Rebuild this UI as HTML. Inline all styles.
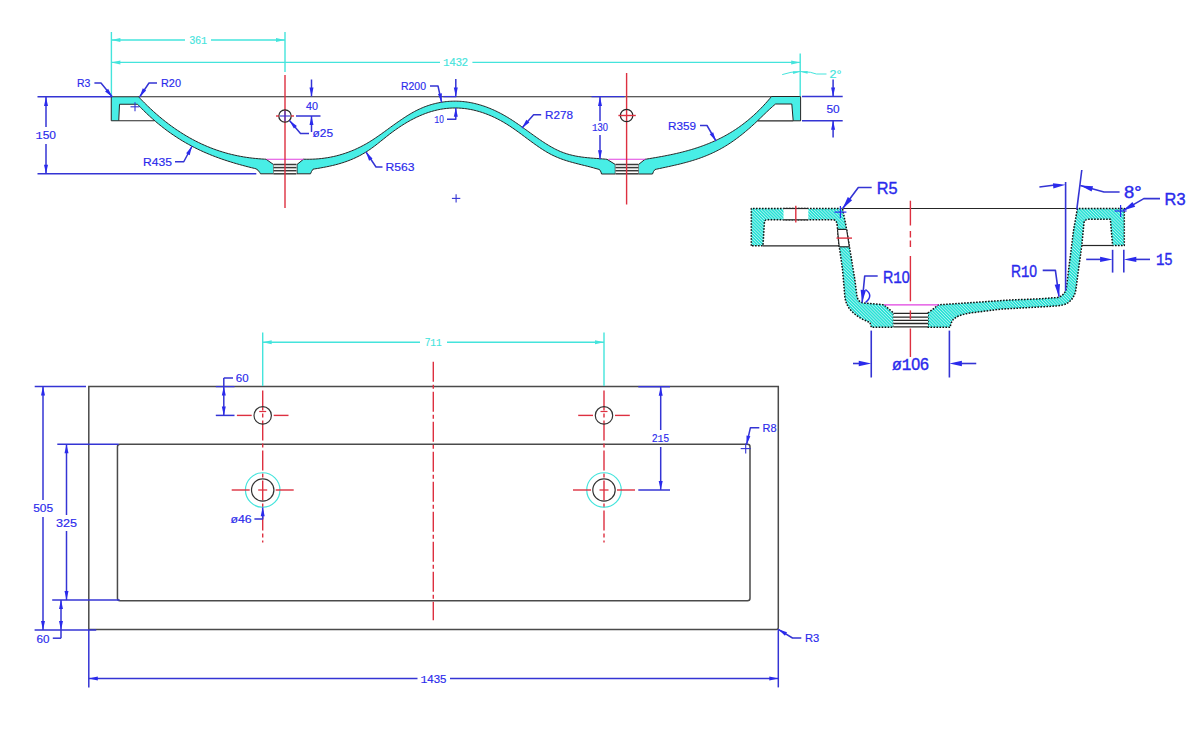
<!DOCTYPE html>
<html><head><meta charset="utf-8"><style>
html,body{margin:0;padding:0;background:#fff;}
svg{display:block;}
text{font-family:"Liberation Sans",sans-serif;} .m{font-family:"Liberation Mono",monospace;}
</style></head><body>
<svg width="1200" height="751" viewBox="0 0 1200 751">
<defs><pattern id="hatch" width="2.2" height="2.2" patternUnits="userSpaceOnUse" patternTransform="rotate(-45)"><rect width="2.2" height="2.2" fill="#22e4d4"/><rect width="0.8" height="2.2" fill="#b4eef2"/></pattern></defs>
<rect width="1200" height="751" fill="#fff"/>
<line x1="138" y1="96.75" x2="772" y2="96.75" stroke="#262626" stroke-width="1.2" />
<path d="M111.25,120.75 L111.25,96.75 L138.5,96.75 L138.5,96.75 L140,98.32 L141.5,99.88 L143,101.42 L144.5,102.93 L146,104.41 L147.5,105.88 L149,107.32 L150.5,108.73 L152,110.12 L153.5,111.49 L155,112.84 L156.5,114.16 L158,115.46 L159.5,116.74 L161,117.99 L162.5,119.22 L164,120.43 L165.5,121.62 L167,122.78 L168.5,123.93 L170,125.05 L171.5,126.15 L173,127.23 L174.5,128.29 L176,129.33 L177.5,130.34 L179,131.34 L180.5,132.31 L182,133.27 L183.5,134.2 L185,135.12 L186.5,136.01 L188,136.89 L189.5,137.74 L191,138.58 L192.5,139.4 L194,140.2 L195.5,140.98 L197,141.74 L198.5,142.48 L200,143.2 L201.5,143.91 L203,144.59 L204.5,145.26 L206,145.92 L207.5,146.55 L209,147.17 L210.5,147.76 L212,148.35 L213.5,148.91 L215,149.46 L216.5,149.99 L218,150.5 L219.5,151 L221,151.49 L222.5,151.95 L224,152.4 L225.5,152.84 L227,153.25 L228.5,153.66 L230,154.05 L231.5,154.42 L233,154.78 L234.5,155.12 L236,155.45 L237.5,155.76 L239,156.06 L240.5,156.35 L242,156.62 L243.5,156.88 L245,157.12 L246.5,157.35 L248,157.57 L249.5,157.78 L251,157.97 L252.5,158.15 L254,158.31 L255.5,158.46 L257,158.6 L258.5,158.73 L260,158.85 L261.5,158.95 L263,159.05 L264.5,159.13 L266,159.2 L273.5,164.5 L273.5,173.8 L260.5,173.8 L259.8,172.6 L258,170.2 L256,168.8 L254.5,168.42 L253,168.05 L251.5,167.68 L250,167.31 L248.5,166.93 L247,166.55 L245.5,166.16 L244,165.76 L242.5,165.36 L241,164.95 L239.5,164.54 L238,164.11 L236.5,163.69 L235,163.25 L233.5,162.81 L232,162.35 L230.5,161.89 L229,161.43 L227.5,160.95 L226,160.46 L224.5,159.96 L223,159.46 L221.5,158.94 L220,158.41 L218.5,157.87 L217,157.32 L215.5,156.76 L214,156.19 L212.5,155.61 L211,155.01 L209.5,154.4 L208,153.78 L206.5,153.14 L205,152.49 L203.5,151.83 L202,151.15 L200.5,150.46 L199,149.75 L197.5,149.03 L196,148.29 L194.5,147.54 L193,146.77 L191.5,145.98 L190,145.18 L188.5,144.36 L187,143.52 L185.5,142.67 L184,141.8 L182.5,140.91 L181,140 L179.5,139.07 L178,138.12 L176.5,137.16 L175,136.17 L173.5,135.17 L172,134.14 L170.5,133.1 L169,132.03 L167.5,130.94 L166,129.83 L164.5,128.7 L163,127.54 L161.5,126.37 L160,125.17 L158.5,123.95 L157,122.7 L155.5,121.43 L154,120.14 L152.5,118.82 L151,117.48 L149.5,116.11 L148,114.72 L146.5,113.3 L145,111.86 L143.5,110.39 L142,108.89 L140.5,107.37 L139,105.82 L137.5,104.25 L119.5,104.25 L118.75,120.75 Z" fill="#48eee6" stroke="#262626" stroke-width="1" stroke-linejoin="round"/>
<line x1="118.75" y1="120.75" x2="154.5" y2="120.75" stroke="#262626" stroke-width="1.2" />
<path d="M297,164.5 L303.5,159.2 L303.5,159.2 L305,159.23 L306.5,159.25 L308.01,159.25 L309.51,159.24 L311.01,159.21 L312.51,159.17 L314.02,159.1 L315.52,159.02 L317.02,158.92 L318.52,158.8 L320.03,158.66 L321.53,158.5 L323.03,158.32 L324.53,158.12 L326.04,157.9 L327.54,157.67 L329.04,157.41 L330.54,157.13 L332.05,156.83 L333.55,156.51 L335.05,156.16 L336.55,155.8 L338.06,155.41 L339.56,155 L341.06,154.57 L342.56,154.12 L344.07,153.64 L345.57,153.14 L347.07,152.61 L348.57,152.07 L350.08,151.49 L351.58,150.9 L353.08,150.28 L354.58,149.63 L356.09,148.96 L357.59,148.27 L359.09,147.54 L360.59,146.8 L362.1,146.02 L363.6,145.22 L365.1,144.4 L366.6,143.55 L368.11,142.67 L369.61,141.76 L371.11,140.83 L372.61,139.87 L374.12,138.88 L375.62,137.88 L377.12,136.85 L378.62,135.81 L380.13,134.76 L381.63,133.69 L383.13,132.61 L384.63,131.53 L386.14,130.44 L387.64,129.35 L389.14,128.25 L390.64,127.16 L392.15,126.07 L393.65,124.99 L395.15,123.91 L396.65,122.85 L398.16,121.79 L399.66,120.75 L401.16,119.72 L402.66,118.71 L404.17,117.71 L405.67,116.74 L407.17,115.79 L408.67,114.86 L410.18,113.95 L411.68,113.08 L413.18,112.23 L414.68,111.41 L416.19,110.62 L417.69,109.87 L419.19,109.16 L420.69,108.47 L422.2,107.83 L423.7,107.21 L425.2,106.62 L426.7,106.07 L428.21,105.55 L429.71,105.06 L431.21,104.6 L432.71,104.17 L434.22,103.77 L435.72,103.4 L437.22,103.06 L438.72,102.75 L440.23,102.46 L441.73,102.21 L443.23,101.98 L444.73,101.78 L446.24,101.6 L447.74,101.46 L449.24,101.34 L450.74,101.25 L452.25,101.19 L453.75,101.16 L455.25,101.15 L456.75,101.17 L458.25,101.22 L459.76,101.29 L461.26,101.39 L462.76,101.52 L464.26,101.68 L465.77,101.86 L467.27,102.07 L468.77,102.3 L470.27,102.56 L471.78,102.85 L473.28,103.17 L474.78,103.51 L476.28,103.88 L477.79,104.27 L479.29,104.69 L480.79,105.13 L482.29,105.61 L483.8,106.1 L485.3,106.62 L486.8,107.17 L488.3,107.75 L489.81,108.34 L491.31,108.97 L492.81,109.62 L494.31,110.29 L495.82,110.99 L497.32,111.72 L498.82,112.47 L500.32,113.24 L501.83,114.04 L503.33,114.86 L504.83,115.71 L506.33,116.58 L507.84,117.48 L509.34,118.4 L510.84,119.34 L512.34,120.31 L513.85,121.3 L515.35,122.3 L516.85,123.33 L518.35,124.37 L519.86,125.42 L521.36,126.48 L522.86,127.56 L524.36,128.64 L525.87,129.72 L527.37,130.81 L528.87,131.9 L530.37,132.99 L531.88,134.07 L533.38,135.15 L534.88,136.22 L536.38,137.29 L537.89,138.34 L539.39,139.38 L540.89,140.41 L542.39,141.42 L543.9,142.41 L545.4,143.38 L546.9,144.32 L548.4,145.24 L549.91,146.14 L551.41,147.01 L552.91,147.84 L554.41,148.64 L555.92,149.41 L557.42,150.14 L558.92,150.83 L560.42,151.49 L561.93,152.1 L563.43,152.67 L564.93,153.2 L566.43,153.69 L567.94,154.15 L569.44,154.58 L570.94,154.98 L572.44,155.34 L573.95,155.68 L575.45,155.99 L576.95,156.27 L578.45,156.53 L579.96,156.77 L581.46,156.99 L582.96,157.2 L584.46,157.38 L585.97,157.55 L587.47,157.71 L588.97,157.85 L590.47,157.99 L591.98,158.11 L593.48,158.23 L594.98,158.35 L596.48,158.46 L597.99,158.57 L599.49,158.68 L600.99,158.79 L602.49,158.91 L604,159.03 L605.5,159.16 L607,159.3 L615.3,164.5 L615.3,174 L601.5,174 L601,172 L599.5,169.5 L595,168.3 L593.5,167.87 L592,167.45 L590.5,167.05 L589,166.66 L587.5,166.28 L586,165.9 L584.5,165.53 L583,165.15 L581.5,164.78 L580,164.41 L578.5,164.04 L577,163.66 L575.5,163.27 L574,162.87 L572.5,162.47 L571,162.05 L569.5,161.62 L568,161.17 L566.5,160.71 L565,160.22 L563.5,159.71 L562,159.19 L560.5,158.63 L559,158.05 L557.5,157.44 L556,156.8 L554.5,156.13 L553,155.42 L551.5,154.68 L550,153.9 L548.5,153.08 L547,152.22 L545.5,151.33 L544,150.41 L542.5,149.45 L541,148.47 L539.5,147.47 L538,146.44 L536.5,145.39 L535,144.33 L533.5,143.25 L532,142.16 L530.5,141.05 L529,139.94 L527.5,138.83 L526,137.71 L524.5,136.59 L523,135.47 L521.5,134.36 L520,133.25 L518.5,132.16 L517,131.07 L515.5,130 L514,128.95 L512.5,127.92 L511,126.91 L509.5,125.92 L508,124.96 L506.5,124.02 L505,123.11 L503.5,122.23 L502,121.37 L500.5,120.53 L499,119.73 L497.5,118.95 L496,118.2 L494.5,117.47 L493,116.77 L491.5,116.09 L490,115.45 L488.5,114.82 L487,114.23 L485.5,113.66 L484,113.12 L482.5,112.61 L481,112.12 L479.5,111.66 L478,111.22 L476.5,110.82 L475,110.44 L473.5,110.08 L472,109.76 L470.5,109.46 L469,109.19 L467.5,108.95 L466,108.73 L464.5,108.54 L463,108.38 L461.5,108.25 L460,108.14 L458.5,108.06 L457,108.01 L455.5,107.99 L454,108 L452.5,108.03 L451,108.09 L449.5,108.18 L448,108.3 L446.5,108.45 L445,108.62 L443.5,108.82 L442,109.05 L440.5,109.31 L439,109.6 L437.5,109.92 L436,110.26 L434.5,110.63 L433,111.04 L431.5,111.47 L430,111.92 L428.5,112.41 L427,112.92 L425.5,113.47 L424,114.03 L422.5,114.63 L421,115.25 L419.5,115.9 L418,116.58 L416.5,117.28 L415,118.01 L413.5,118.77 L412,119.55 L410.5,120.35 L409,121.18 L407.5,122.04 L406,122.92 L404.5,123.83 L403,124.76 L401.5,125.72 L400,126.7 L398.5,127.71 L397,128.74 L395.5,129.79 L394,130.87 L392.5,131.97 L391,133.09 L389.5,134.24 L388,135.41 L386.5,136.59 L385,137.79 L383.5,138.99 L382,140.2 L380.5,141.4 L379,142.6 L377.5,143.79 L376,144.96 L374.5,146.11 L373,147.23 L371.5,148.32 L370,149.38 L368.5,150.4 L367,151.38 L365.5,152.32 L364,153.23 L362.5,154.1 L361,154.94 L359.5,155.74 L358,156.51 L356.5,157.24 L355,157.95 L353.5,158.62 L352,159.27 L350.5,159.89 L349,160.48 L347.5,161.05 L346,161.59 L344.5,162.11 L343,162.6 L341.5,163.07 L340,163.53 L338.5,163.96 L337,164.37 L335.5,164.76 L334,165.14 L332.5,165.5 L331,165.85 L329.5,166.18 L328,166.5 L326.5,166.8 L325,167.1 L323.5,167.38 L322,167.66 L320.5,167.93 L319,168.19 L317.5,168.44 L316,168.69 L314.5,168.93 L313,169.2 L311.5,171.5 L310.5,173.8 L297,173.8 Z" fill="#48eee6" stroke="#262626" stroke-width="1" stroke-linejoin="round"/>
<path d="M638.5,164.5 L645,159.3 L645,159.3 L646.51,159.08 L648.01,158.83 L649.52,158.58 L651.02,158.33 L652.53,158.08 L654.04,157.83 L655.54,157.57 L657.05,157.31 L658.55,157.04 L660.06,156.77 L661.57,156.5 L663.07,156.22 L664.58,155.93 L666.08,155.64 L667.59,155.34 L669.1,155.04 L670.6,154.73 L672.11,154.41 L673.61,154.09 L675.12,153.75 L676.62,153.41 L678.13,153.06 L679.64,152.7 L681.14,152.33 L682.65,151.96 L684.15,151.57 L685.66,151.17 L687.17,150.76 L688.67,150.34 L690.18,149.91 L691.68,149.46 L693.19,149.01 L694.7,148.54 L696.2,148.06 L697.71,147.56 L699.21,147.05 L700.72,146.53 L702.23,145.99 L703.73,145.44 L705.24,144.87 L706.74,144.29 L708.25,143.69 L709.76,143.08 L711.26,142.44 L712.77,141.8 L714.27,141.13 L715.78,140.44 L717.29,139.74 L718.79,139.02 L720.3,138.27 L721.8,137.51 L723.31,136.72 L724.82,135.92 L726.32,135.08 L727.83,134.23 L729.33,133.35 L730.84,132.45 L732.35,131.52 L733.85,130.57 L735.36,129.59 L736.86,128.58 L738.37,127.55 L739.88,126.48 L741.38,125.39 L742.89,124.27 L744.39,123.12 L745.9,121.93 L747.4,120.72 L748.91,119.47 L750.42,118.2 L751.92,116.88 L753.43,115.54 L754.93,114.16 L756.44,112.74 L757.95,111.29 L759.45,109.8 L760.96,108.28 L762.46,106.72 L763.97,105.12 L765.48,103.48 L766.98,101.8 L768.49,100.08 L769.99,98.32 L771.5,96.5 L800.6,96.5 L800.6,120.8 L793.2,120.8 L791.8,104 L775.6,104 L774.09,105.23 L772.59,106.54 L771.08,107.88 L769.57,109.26 L768.06,110.67 L766.56,112.1 L765.05,113.55 L763.54,115.01 L762.03,116.47 L760.52,117.93 L759.02,119.39 L757.51,120.83 L756,122.26 L754.5,123.66 L752.99,125.04 L751.48,126.4 L749.97,127.74 L748.47,129.05 L746.96,130.34 L745.45,131.61 L743.94,132.85 L742.44,134.08 L740.93,135.27 L739.42,136.44 L737.91,137.59 L736.4,138.71 L734.9,139.81 L733.39,140.88 L731.88,141.93 L730.38,142.95 L728.87,143.94 L727.36,144.9 L725.85,145.84 L724.35,146.75 L722.84,147.63 L721.33,148.49 L719.82,149.32 L718.32,150.12 L716.81,150.9 L715.3,151.65 L713.79,152.38 L712.28,153.09 L710.78,153.77 L709.27,154.43 L707.76,155.08 L706.25,155.7 L704.75,156.3 L703.24,156.88 L701.73,157.45 L700.23,158 L698.72,158.53 L697.21,159.04 L695.7,159.54 L694.2,160.02 L692.69,160.49 L691.18,160.95 L689.67,161.39 L688.16,161.82 L686.66,162.24 L685.15,162.64 L683.64,163.04 L682.13,163.43 L680.63,163.81 L679.12,164.18 L677.61,164.54 L676.11,164.89 L674.6,165.24 L673.09,165.59 L671.58,165.92 L670.08,166.26 L668.57,166.59 L667.06,166.92 L665.55,167.24 L664.04,167.56 L662.54,167.89 L661.03,168.21 L659.52,168.53 L658.01,168.85 L656.51,169.18 L655,169.5 L653.5,171.5 L652.5,174 L638.5,174 Z" fill="#48eee6" stroke="#262626" stroke-width="1" stroke-linejoin="round"/>
<line x1="757.5" y1="120.8" x2="793.2" y2="120.8" stroke="#262626" stroke-width="1.2" />
<rect x="273.5" y="164.5" width="23" height="9.4" fill="#fff"/>
<line x1="273.5" y1="164.5" x2="296.5" y2="164.5" stroke="#3a3a3a" stroke-width="1.5" />
<line x1="273.5" y1="167.6" x2="296.5" y2="167.6" stroke="#3a3a3a" stroke-width="1.5" />
<line x1="273.5" y1="170.7" x2="296.5" y2="170.7" stroke="#3a3a3a" stroke-width="1.5" />
<line x1="273.5" y1="173.8" x2="296.5" y2="173.8" stroke="#3a3a3a" stroke-width="1.5" />
<line x1="266.5" y1="159.25" x2="303.5" y2="159.25" stroke="#e040e0" stroke-width="1.2" />
<rect x="615.5" y="164.5" width="23" height="9.4" fill="#fff"/>
<line x1="615.5" y1="164.5" x2="638.5" y2="164.5" stroke="#3a3a3a" stroke-width="1.5" />
<line x1="615.5" y1="167.6" x2="638.5" y2="167.6" stroke="#3a3a3a" stroke-width="1.5" />
<line x1="615.5" y1="170.7" x2="638.5" y2="170.7" stroke="#3a3a3a" stroke-width="1.5" />
<line x1="615.5" y1="173.8" x2="638.5" y2="173.8" stroke="#3a3a3a" stroke-width="1.5" />
<line x1="608.5" y1="159.25" x2="645.5" y2="159.25" stroke="#e040e0" stroke-width="1.2" />
<line x1="285" y1="75" x2="285" y2="208" stroke="#dd3040" stroke-width="1.4" />
<line x1="626.6" y1="73" x2="626.6" y2="204.5" stroke="#dd3040" stroke-width="1.4" />
<circle cx="285" cy="116" r="6.2" fill="none" stroke="#262626" stroke-width="1.3"/>
<circle cx="626.6" cy="115.5" r="6.2" fill="none" stroke="#262626" stroke-width="1.3"/>
<line x1="276" y1="116" x2="279" y2="116" stroke="#dd3040" stroke-width="1.4" />
<line x1="291" y1="116" x2="294" y2="116" stroke="#dd3040" stroke-width="1.4" />
<line x1="618.4" y1="115.5" x2="635.8" y2="115.5" stroke="#dd3040" stroke-width="1.4" />
<line x1="280" y1="116" x2="290" y2="116" stroke="#3434d4" stroke-width="1.1" />
<line x1="285" y1="111" x2="285" y2="121" stroke="#3434d4" stroke-width="1.1" />
<line x1="111.4" y1="32" x2="111.4" y2="97" stroke="#44e4dc" stroke-width="1.4" />
<line x1="285" y1="32" x2="285" y2="72" stroke="#44e4dc" stroke-width="1.4" />
<line x1="800.2" y1="53.6" x2="800.2" y2="96.2" stroke="#44e4dc" stroke-width="1.4" />
<line x1="111.4" y1="40" x2="185" y2="40" stroke="#44e4dc" stroke-width="1.4" />
<line x1="211" y1="40" x2="285" y2="40" stroke="#44e4dc" stroke-width="1.4" />
<polygon points="111.4,40 120.4,42 120.4,38" fill="#44e4dc"/>
<polygon points="285,40 276,38 276,42" fill="#44e4dc"/>
<text x="189.6" y="44.43" font-size="10.5" fill="#44e4dc" stroke="#44e4dc" stroke-width="0.15" textLength="17.4" lengthAdjust="spacingAndGlyphs">36<tspan class="m">1</tspan></text>
<line x1="111.4" y1="62.4" x2="440" y2="62.4" stroke="#44e4dc" stroke-width="1.4" />
<line x1="472.4" y1="62.4" x2="800.2" y2="62.4" stroke="#44e4dc" stroke-width="1.4" />
<polygon points="111.4,62.4 120.4,64.4 120.4,60.4" fill="#44e4dc"/>
<polygon points="800.2,62.4 791.2,60.4 791.2,64.4" fill="#44e4dc"/>
<text x="443" y="66.43" font-size="10.5" fill="#44e4dc" stroke="#44e4dc" stroke-width="0.15" textLength="25" lengthAdjust="spacingAndGlyphs"><tspan class="m">1</tspan>432</text>
<polyline points="782.2,74.6 791,72.3 800,71.5" fill="none" stroke="#44e4dc" stroke-width="1.0" stroke-linejoin="round" />
<polyline points="800,71.5 810.4,72.3 816.4,74 826.5,74" fill="none" stroke="#44e4dc" stroke-width="1.0" stroke-linejoin="round" />
<polygon points="800,71.8 792.88,71.22 793.21,74" fill="#44e4dc"/>
<polygon points="800.6,71.8 807.48,73.69 807.68,70.89" fill="#44e4dc"/>
<text x="829.5" y="77.83" font-size="10.5" fill="#44e4dc" stroke="#44e4dc" stroke-width="0.15" textLength="12" lengthAdjust="spacingAndGlyphs">2°</text>
<line x1="37.5" y1="96.75" x2="111" y2="96.75" stroke="#3434d4" stroke-width="1.5" />
<line x1="37.5" y1="173.75" x2="256.3" y2="173.75" stroke="#3434d4" stroke-width="1.5" />
<line x1="46" y1="97" x2="46" y2="127" stroke="#3434d4" stroke-width="1.5" />
<line x1="46" y1="144" x2="46" y2="173.75" stroke="#3434d4" stroke-width="1.5" />
<polygon points="46,97 44,106 48,106" fill="#2a2aec"/>
<polygon points="46,173.75 48,164.75 44,164.75" fill="#2a2aec"/>
<text x="35.5" y="139.33" font-size="10.5" fill="#2a2aec" stroke="#2a2aec" stroke-width="0.15" textLength="20.5" lengthAdjust="spacingAndGlyphs"><tspan class="m">1</tspan>50</text>
<polyline points="94.4,83 101,83 112.4,97" fill="none" stroke="#3434d4" stroke-width="1.5" stroke-linejoin="round" />
<polygon points="112.4,97 108.14,88.82 105.08,91.4" fill="#2a2aec"/>
<text x="77" y="86.83" font-size="10.5" fill="#2a2aec" stroke="#2a2aec" stroke-width="0.15" textLength="13.4" lengthAdjust="spacingAndGlyphs">R3</text>
<polyline points="157,83 149,83 139.6,97" fill="none" stroke="#3434d4" stroke-width="1.5" stroke-linejoin="round" />
<polygon points="139.6,97 146.14,90.5 142.77,88.34" fill="#2a2aec"/>
<text x="161" y="86.83" font-size="10.5" fill="#2a2aec" stroke="#2a2aec" stroke-width="0.15" textLength="20" lengthAdjust="spacingAndGlyphs">R20</text>
<line x1="130.5" y1="106.8" x2="139.5" y2="106.8" stroke="#3434d4" stroke-width="1.1" />
<line x1="135" y1="102.3" x2="135" y2="111.3" stroke="#3434d4" stroke-width="1.1" />
<line x1="311.5" y1="79.5" x2="311.5" y2="96.5" stroke="#3434d4" stroke-width="1.5" />
<polygon points="311.5,96.5 313.5,87.5 309.5,87.5" fill="#2a2aec"/>
<line x1="296" y1="116" x2="320.5" y2="116" stroke="#3434d4" stroke-width="1.5" />
<line x1="311.5" y1="116" x2="311.5" y2="132" stroke="#3434d4" stroke-width="1.5" />
<polygon points="311.5,116 309.5,125 313.5,125" fill="#2a2aec"/>
<text x="306" y="110.33" font-size="10.5" fill="#2a2aec" stroke="#2a2aec" stroke-width="0.15" textLength="12" lengthAdjust="spacingAndGlyphs">40</text>
<polyline points="309,133.5 300.5,133.5 289.5,120.5" fill="none" stroke="#3434d4" stroke-width="1.5" stroke-linejoin="round" />
<polygon points="289.5,120.5 293.88,128.61 296.91,125.99" fill="#2a2aec"/>
<text x="312.5" y="136.83" font-size="10.5" fill="#2a2aec" stroke="#2a2aec" stroke-width="0.15" textLength="20.5" lengthAdjust="spacingAndGlyphs">ø25</text>
<polyline points="175,161.75 183.75,161.75 192,146.25" fill="none" stroke="#3434d4" stroke-width="1.5" stroke-linejoin="round" />
<polygon points="192,146.25 186.11,153.34 189.66,155.17" fill="#2a2aec"/>
<text x="143" y="165.58" font-size="10.5" fill="#2a2aec" stroke="#2a2aec" stroke-width="0.15" textLength="29" lengthAdjust="spacingAndGlyphs">R435</text>
<polyline points="382.5,167 376,167 366,152" fill="none" stroke="#3434d4" stroke-width="1.5" stroke-linejoin="round" />
<polygon points="366,152 369.07,160.69 372.47,158.57" fill="#2a2aec"/>
<text x="385.5" y="170.83" font-size="10.5" fill="#2a2aec" stroke="#2a2aec" stroke-width="0.15" textLength="29" lengthAdjust="spacingAndGlyphs">R563</text>
<polyline points="430,86 438,86 441.6,102.4" fill="none" stroke="#3434d4" stroke-width="1.5" stroke-linejoin="round" />
<polygon points="441.6,102.4 441.87,93.18 437.94,93.94" fill="#2a2aec"/>
<text x="401" y="89.83" font-size="10.5" fill="#2a2aec" stroke="#2a2aec" stroke-width="0.15" textLength="25" lengthAdjust="spacingAndGlyphs">R200</text>
<line x1="455.8" y1="79" x2="455.8" y2="96.5" stroke="#3434d4" stroke-width="1.5" />
<polygon points="455.8,96.5 457.8,87.5 453.8,87.5" fill="#2a2aec"/>
<line x1="443.3" y1="96.6" x2="456.3" y2="96.6" stroke="#3434d4" stroke-width="1.3" />
<polyline points="447,119.2 455.8,119.2 455.8,108" fill="none" stroke="#3434d4" stroke-width="1.5" stroke-linejoin="round" />
<polygon points="455.8,107.8 453.8,116.8 457.8,116.8" fill="#2a2aec"/>
<text x="434.2" y="122.83" font-size="10.5" fill="#2a2aec" stroke="#2a2aec" stroke-width="0.15" textLength="9.55" lengthAdjust="spacingAndGlyphs"><tspan class="m">1</tspan>0</text>
<polyline points="541.2,114.8 533.6,114.8 522,128" fill="none" stroke="#3434d4" stroke-width="1.5" stroke-linejoin="round" />
<polygon points="522,128 529.38,122.47 526.34,119.87" fill="#2a2aec"/>
<text x="545" y="119.23" font-size="10.5" fill="#2a2aec" stroke="#2a2aec" stroke-width="0.15" textLength="28" lengthAdjust="spacingAndGlyphs">R278</text>
<line x1="591.5" y1="96.6" x2="624.5" y2="96.6" stroke="#3434d4" stroke-width="1.4" />
<line x1="600" y1="97" x2="600" y2="121" stroke="#3434d4" stroke-width="1.5" />
<line x1="600" y1="135" x2="600" y2="159.3" stroke="#3434d4" stroke-width="1.5" />
<polygon points="600,97 598,106 602,106" fill="#2a2aec"/>
<polygon points="600,159.3 602,150.3 598,150.3" fill="#2a2aec"/>
<text x="592" y="131.43" font-size="10.5" fill="#2a2aec" stroke="#2a2aec" stroke-width="0.15" textLength="16" lengthAdjust="spacingAndGlyphs"><tspan class="m">1</tspan>30</text>
<polyline points="700,125.5 707,125.5 716,141" fill="none" stroke="#3434d4" stroke-width="1.5" stroke-linejoin="round" />
<polygon points="716,141 713.16,132.23 709.71,134.26" fill="#2a2aec"/>
<text x="668" y="129.93" font-size="10.5" fill="#2a2aec" stroke="#2a2aec" stroke-width="0.15" textLength="28" lengthAdjust="spacingAndGlyphs">R359</text>
<line x1="802" y1="96.5" x2="842.7" y2="96.5" stroke="#3434d4" stroke-width="1.5" />
<line x1="802" y1="120.7" x2="842.7" y2="120.7" stroke="#3434d4" stroke-width="1.5" />
<line x1="833.1" y1="79.4" x2="833.1" y2="96.5" stroke="#3434d4" stroke-width="1.5" />
<polygon points="833.1,96.5 835.1,87.5 831.1,87.5" fill="#2a2aec"/>
<line x1="833.1" y1="120.7" x2="833.1" y2="137.5" stroke="#3434d4" stroke-width="1.5" />
<polygon points="833.1,120.7 831.1,129.7 835.1,129.7" fill="#2a2aec"/>
<text x="826.5" y="112.58" font-size="10.5" fill="#2a2aec" stroke="#2a2aec" stroke-width="0.15" textLength="13.2" lengthAdjust="spacingAndGlyphs">50</text>
<line x1="451.9" y1="198.4" x2="460.3" y2="198.4" stroke="#3434d4" stroke-width="1.1" />
<line x1="456.1" y1="194.2" x2="456.1" y2="202.6" stroke="#3434d4" stroke-width="1.1" />
<line x1="842.5" y1="208.5" x2="1077.4" y2="208.5" stroke="#262626" stroke-width="1.2" />
<path d="M751.3,245.8 L751.3,208.5 L842.5,208.5 L846,226 L850.3,252 L854.6,278 L857,296.5 C857.8,300 860,302.6 863.5,303 L884,304.8 L893.5,313 L893.5,327.2 L871.3,327.2 L870,322.5 C862,319.5 853,314 849,308 C846.5,304 845.2,300.5 844.8,296 L842.5,269.3 L839,245 L837.3,226 C836.8,222 836,220 833.5,219.8 L766.5,219.8 C764.8,220 764.5,221.5 764.4,223 L763,245.8 Z" fill="url(#hatch)" stroke="#111" stroke-width="1.5" stroke-dasharray="1.6,1.4" stroke-linejoin="round"/>
<path d="M928,313 L938.5,304.8 L970,302.7 L1010,300 L1040,298.8 L1057.6,297.5 C1062,296.5 1065.5,293 1066.4,288 L1070,258.6 L1073.7,229.3 L1077.4,208.6 L1124.3,208.6 L1124.3,245.5 L1112.6,245.5 L1110.4,219.3 L1088,219.3 C1085.5,219.5 1084.3,221 1084,223 L1081.8,245.5 L1079.6,261.6 L1075.9,289.4 C1075,295 1072.5,300 1067,303.5 C1064,305 1060,305.5 1056,306 L1000,309.2 L970,313 C962,314.3 955.5,316.5 952.5,320.5 C951.2,322.5 950.5,325 950.2,327.2 L928,327.2 Z" fill="url(#hatch)" stroke="#111" stroke-width="1.5" stroke-dasharray="1.6,1.4" stroke-linejoin="round"/>
<line x1="763" y1="245.8" x2="839" y2="245.8" stroke="#262626" stroke-width="1.2" />
<line x1="1081.8" y1="245.5" x2="1112.6" y2="245.5" stroke="#262626" stroke-width="1.2" />
<rect x="783.5" y="208.6" width="24.8" height="11.2" fill="#fff"/>
<line x1="783.5" y1="208.5" x2="808.3" y2="208.5" stroke="#262626" stroke-width="1.2" />
<line x1="783.5" y1="219.8" x2="808.3" y2="219.8" stroke="#262626" stroke-width="1.2" />
<line x1="795.8" y1="205.8" x2="795.8" y2="222.5" stroke="#dd3040" stroke-width="1.4" />
<polygon points="837.5,229.4 846.6,229.4 849.3,246.8 839.4,246.8" fill="#fff"/>
<line x1="837.5" y1="229.4" x2="846.6" y2="229.4" stroke="#262626" stroke-width="1.2" />
<line x1="839.2" y1="246.8" x2="849.3" y2="246.8" stroke="#262626" stroke-width="1.2" />
<line x1="837.5" y1="229.4" x2="839.2" y2="246.8" stroke="#262626" stroke-width="1.1" />
<line x1="846.6" y1="229.4" x2="849.3" y2="246.8" stroke="#262626" stroke-width="1.1" />
<line x1="836.5" y1="238.1" x2="852" y2="238.1" stroke="#dd3040" stroke-width="1.4" />
<rect x="893.5" y="313" width="34.5" height="14.2" fill="#fff"/>
<line x1="893.5" y1="313.3" x2="928" y2="313.3" stroke="#262626" stroke-width="1.3" />
<line x1="893.5" y1="317.1" x2="928" y2="317.1" stroke="#262626" stroke-width="1.3" />
<line x1="893.5" y1="320.4" x2="928" y2="320.4" stroke="#262626" stroke-width="1.3" />
<line x1="893.5" y1="323.5" x2="928" y2="323.5" stroke="#262626" stroke-width="1.3" />
<line x1="893.5" y1="326.9" x2="928" y2="326.9" stroke="#262626" stroke-width="1.3" />
<line x1="884" y1="304.8" x2="938.5" y2="304.8" stroke="#e040e0" stroke-width="1.3" />
<line x1="910.4" y1="200.7" x2="910.4" y2="225.5" stroke="#dd3040" stroke-width="1.4" />
<line x1="910.4" y1="231" x2="910.4" y2="237.5" stroke="#dd3040" stroke-width="1.4" />
<line x1="910.4" y1="240.5" x2="910.4" y2="247" stroke="#dd3040" stroke-width="1.4" />
<line x1="910.4" y1="256" x2="910.4" y2="301.3" stroke="#dd3040" stroke-width="1.4" />
<line x1="910.4" y1="310.4" x2="910.4" y2="319.4" stroke="#dd3040" stroke-width="1.4" />
<line x1="910.4" y1="328.5" x2="910.4" y2="357" stroke="#dd3040" stroke-width="1.4" />
<polyline points="871.7,187.5 858.3,187.5 842.5,208.7" fill="none" stroke="#3434d4" stroke-width="1.6" stroke-linejoin="round" />
<polygon points="842.5,208.7 852.13,200.29 847.8,197.06" fill="#2a2aec"/>
<text x="876.7" y="193.51" font-size="16.5" fill="#2a2aec" stroke="#2a2aec" stroke-width="0.4" textLength="20.8" lengthAdjust="spacingAndGlyphs">R5</text>
<line x1="834.4" y1="212.1" x2="846.4" y2="212.1" stroke="#2a2aec" stroke-width="1.2" />
<line x1="840.4" y1="206.1" x2="840.4" y2="218.1" stroke="#2a2aec" stroke-width="1.2" />
<polyline points="877.7,276 864.7,276 862.1,302.5" fill="none" stroke="#3434d4" stroke-width="1.6" stroke-linejoin="round" />
<polygon points="862.1,302.5 865.98,290.31 860.6,289.8" fill="#2a2aec"/>
<path d="M865.5,289.5 Q874,295.5 865.5,302.5" fill="none" stroke="#2a2aec" stroke-width="1.5"/>
<text x="882.9" y="283.41" font-size="16.5" fill="#2a2aec" stroke="#2a2aec" stroke-width="0.4" textLength="26.8" lengthAdjust="spacingAndGlyphs">R<tspan class="m">1</tspan>0</text>
<polyline points="1042.7,270.4 1055.4,270.4 1059,296.7" fill="none" stroke="#3434d4" stroke-width="1.6" stroke-linejoin="round" />
<polygon points="1059,296.7 1060.02,283.95 1054.66,284.67" fill="#2a2aec"/>
<text x="1010.9" y="277.01" font-size="16.5" fill="#2a2aec" stroke="#2a2aec" stroke-width="0.4" textLength="26.1" lengthAdjust="spacingAndGlyphs">R<tspan class="m">1</tspan>0</text>
<line x1="1065.6" y1="182" x2="1065.6" y2="290.9" stroke="#3434d4" stroke-width="1.6" />
<line x1="1081.8" y1="170" x2="1076.8" y2="209.5" stroke="#3434d4" stroke-width="1.6" />
<line x1="1039.4" y1="187" x2="1055" y2="185" stroke="#3434d4" stroke-width="1.6" />
<polygon points="1065.6,184.8 1052.91,183.23 1053.39,188.61" fill="#2a2aec"/>
<polyline points="1119.6,192 1104,192 1080.3,185.5" fill="none" stroke="#3434d4" stroke-width="1.6" stroke-linejoin="round" />
<polygon points="1080.3,185.5 1091.61,191.47 1093.06,186.27" fill="#2a2aec"/>
<text x="1124" y="198.01" font-size="16.5" fill="#2a2aec" stroke="#2a2aec" stroke-width="0.4" textLength="17.6" lengthAdjust="spacingAndGlyphs">8°</text>
<polyline points="1160,198.6 1143.8,198.6 1123,210.6" fill="none" stroke="#3434d4" stroke-width="1.6" stroke-linejoin="round" />
<polygon points="1123,210.6 1135.17,206.66 1132.46,201.99" fill="#2a2aec"/>
<text x="1164.6" y="204.61" font-size="16.5" fill="#2a2aec" stroke="#2a2aec" stroke-width="0.4" textLength="20.9" lengthAdjust="spacingAndGlyphs">R3</text>
<line x1="1114.6" y1="211" x2="1126.6" y2="211" stroke="#2a2aec" stroke-width="1.2" />
<line x1="1120.6" y1="205" x2="1120.6" y2="217" stroke="#2a2aec" stroke-width="1.2" />
<line x1="1112.6" y1="249.8" x2="1112.6" y2="272.6" stroke="#3434d4" stroke-width="1.6" />
<line x1="1123.8" y1="249.8" x2="1123.8" y2="272.6" stroke="#3434d4" stroke-width="1.6" />
<line x1="1086.2" y1="259.4" x2="1104" y2="259.4" stroke="#3434d4" stroke-width="1.6" />
<polygon points="1112.6,259.4 1100.1,256.7 1100.1,262.1" fill="#2a2aec"/>
<line x1="1150" y1="259.4" x2="1132" y2="259.4" stroke="#3434d4" stroke-width="1.6" />
<polygon points="1123.8,259.4 1136.3,262.1 1136.3,256.7" fill="#2a2aec"/>
<text x="1155.9" y="265.01" font-size="16.5" fill="#2a2aec" stroke="#2a2aec" stroke-width="0.4" textLength="16.4" lengthAdjust="spacingAndGlyphs"><tspan class="m">1</tspan>5</text>
<line x1="871.25" y1="330.6" x2="871.25" y2="377.5" stroke="#3434d4" stroke-width="1.6" />
<line x1="949.4" y1="330.6" x2="949.4" y2="377.5" stroke="#3434d4" stroke-width="1.6" />
<line x1="853" y1="363.5" x2="862" y2="363.5" stroke="#3434d4" stroke-width="1.6" />
<polygon points="871.25,363.5 858.75,360.8 858.75,366.2" fill="#2a2aec"/>
<line x1="976.25" y1="363.5" x2="958" y2="363.5" stroke="#3434d4" stroke-width="1.6" />
<polygon points="949.4,363.5 961.9,366.2 961.9,360.8" fill="#2a2aec"/>
<text x="891.9" y="369.76" font-size="16.5" fill="#2a2aec" stroke="#2a2aec" stroke-width="0.4" textLength="37.1" lengthAdjust="spacingAndGlyphs">ø<tspan class="m">1</tspan>06</text>
<path d="M88.8,386.6 L778.3,386.6 L778.3,627.5 Q778.3,629.5 776.3,629.5 L88.8,629.5 Z" fill="none" stroke="#4a4a4a" stroke-width="1.5"/>
<rect x="117.45" y="444.3" width="632.55" height="156.4" rx="2.5" fill="none" stroke="#4a4a4a" stroke-width="1.5"/>
<line x1="433.3" y1="361.7" x2="433.3" y2="620.3" stroke="#dd3040" stroke-width="1.4" stroke-dasharray="20,3,4,3"/>
<line x1="262.7" y1="390.5" x2="262.7" y2="542.5" stroke="#dd3040" stroke-width="1.4" stroke-dasharray="20,3,4,3"/>
<circle cx="262.7" cy="415.4" r="8.7" fill="none" stroke="#333" stroke-width="1.2"/>
<circle cx="262.7" cy="490" r="11.2" fill="none" stroke="#333" stroke-width="1.2"/>
<circle cx="262.7" cy="490" r="17.25" fill="none" stroke="#44e4dc" stroke-width="1.2"/>
<line x1="236.9" y1="415.4" x2="251.7" y2="415.4" stroke="#dd3040" stroke-width="1.4" />
<line x1="273.7" y1="415.4" x2="288.5" y2="415.4" stroke="#dd3040" stroke-width="1.4" />
<line x1="259.2" y1="411.5" x2="266.2" y2="411.5" stroke="#dd3040" stroke-width="1.2" />
<line x1="231.7" y1="490" x2="249.7" y2="490" stroke="#dd3040" stroke-width="1.4" />
<line x1="275.7" y1="490" x2="293.7" y2="490" stroke="#dd3040" stroke-width="1.4" />
<line x1="258.2" y1="490" x2="267.2" y2="490" stroke="#dd3040" stroke-width="1.3" />
<line x1="262.7" y1="332.5" x2="262.7" y2="386" stroke="#44e4dc" stroke-width="1.4" />
<line x1="604" y1="390.5" x2="604" y2="542.5" stroke="#dd3040" stroke-width="1.4" stroke-dasharray="20,3,4,3"/>
<circle cx="604" cy="415.4" r="8.7" fill="none" stroke="#333" stroke-width="1.2"/>
<circle cx="604" cy="490" r="11.2" fill="none" stroke="#333" stroke-width="1.2"/>
<circle cx="604" cy="490" r="17.25" fill="none" stroke="#44e4dc" stroke-width="1.2"/>
<line x1="578.2" y1="415.4" x2="593" y2="415.4" stroke="#dd3040" stroke-width="1.4" />
<line x1="615" y1="415.4" x2="629.8" y2="415.4" stroke="#dd3040" stroke-width="1.4" />
<line x1="600.5" y1="411.5" x2="607.5" y2="411.5" stroke="#dd3040" stroke-width="1.2" />
<line x1="573" y1="490" x2="591" y2="490" stroke="#dd3040" stroke-width="1.4" />
<line x1="617" y1="490" x2="635" y2="490" stroke="#dd3040" stroke-width="1.4" />
<line x1="599.5" y1="490" x2="608.5" y2="490" stroke="#dd3040" stroke-width="1.3" />
<line x1="604" y1="332.5" x2="604" y2="386" stroke="#44e4dc" stroke-width="1.4" />
<line x1="262.7" y1="342.2" x2="420" y2="342.2" stroke="#44e4dc" stroke-width="1.4" />
<line x1="447" y1="342.2" x2="604" y2="342.2" stroke="#44e4dc" stroke-width="1.4" />
<polygon points="262.7,342.2 271.7,344.2 271.7,340.2" fill="#44e4dc"/>
<polygon points="604,342.2 595,340.2 595,344.2" fill="#44e4dc"/>
<text x="425" y="346.13" font-size="10.5" fill="#44e4dc" stroke="#44e4dc" stroke-width="0.15" textLength="16.7" lengthAdjust="spacingAndGlyphs">7<tspan class="m">1</tspan><tspan class="m">1</tspan></text>
<line x1="223.8" y1="378" x2="223.8" y2="415.4" stroke="#3434d4" stroke-width="1.5" />
<polygon points="223.8,386.6 221.8,395.6 225.8,395.6" fill="#2a2aec"/>
<polygon points="223.8,415.4 225.8,406.4 221.8,406.4" fill="#2a2aec"/>
<line x1="223.8" y1="378" x2="233" y2="378" stroke="#3434d4" stroke-width="1.5" />
<line x1="215.8" y1="415.4" x2="234.5" y2="415.4" stroke="#3434d4" stroke-width="1.5" />
<line x1="215.8" y1="386.6" x2="234.5" y2="386.6" stroke="#3434d4" stroke-width="1.3" />
<text x="235.8" y="381.83" font-size="10.5" fill="#2a2aec" stroke="#2a2aec" stroke-width="0.15" textLength="12.8" lengthAdjust="spacingAndGlyphs">60</text>
<line x1="34.7" y1="386.6" x2="86" y2="386.6" stroke="#3434d4" stroke-width="1.5" />
<line x1="34.6" y1="630" x2="96.2" y2="630" stroke="#3434d4" stroke-width="1.5" />
<line x1="43" y1="386.6" x2="43" y2="500" stroke="#3434d4" stroke-width="1.5" />
<line x1="43" y1="517" x2="43" y2="630" stroke="#3434d4" stroke-width="1.5" />
<polygon points="43,386.6 41,395.6 45,395.6" fill="#2a2aec"/>
<polygon points="43,630 45,621 41,621" fill="#2a2aec"/>
<text x="33.2" y="512.23" font-size="10.5" fill="#2a2aec" stroke="#2a2aec" stroke-width="0.15" textLength="19.9" lengthAdjust="spacingAndGlyphs">505</text>
<line x1="57.3" y1="444.3" x2="118.6" y2="444.3" stroke="#3434d4" stroke-width="1.5" />
<line x1="52.2" y1="600.1" x2="119.6" y2="600.1" stroke="#3434d4" stroke-width="1.5" />
<line x1="66.5" y1="444.3" x2="66.5" y2="515" stroke="#3434d4" stroke-width="1.5" />
<line x1="66.5" y1="531" x2="66.5" y2="600.1" stroke="#3434d4" stroke-width="1.5" />
<polygon points="66.5,444.3 64.5,453.3 68.5,453.3" fill="#2a2aec"/>
<polygon points="66.5,600.1 68.5,591.1 64.5,591.1" fill="#2a2aec"/>
<text x="56" y="526.83" font-size="10.5" fill="#2a2aec" stroke="#2a2aec" stroke-width="0.15" textLength="21.1" lengthAdjust="spacingAndGlyphs">325</text>
<line x1="61" y1="600.1" x2="61" y2="638.2" stroke="#3434d4" stroke-width="1.5" />
<polygon points="61,600.1 59,609.1 63,609.1" fill="#2a2aec"/>
<polygon points="61,630 63,621 59,621" fill="#2a2aec"/>
<line x1="61" y1="638.2" x2="52.8" y2="638.2" stroke="#3434d4" stroke-width="1.5" />
<text x="36.4" y="642.63" font-size="10.5" fill="#2a2aec" stroke="#2a2aec" stroke-width="0.15" textLength="13" lengthAdjust="spacingAndGlyphs">60</text>
<line x1="88.8" y1="630" x2="88.8" y2="687.4" stroke="#3434d4" stroke-width="1.5" />
<line x1="778.3" y1="629.5" x2="778.3" y2="687.4" stroke="#3434d4" stroke-width="1.5" />
<line x1="88.8" y1="678.6" x2="417.5" y2="678.6" stroke="#3434d4" stroke-width="1.5" />
<line x1="450" y1="678.6" x2="778.3" y2="678.6" stroke="#3434d4" stroke-width="1.5" />
<polygon points="88.8,678.6 97.8,680.6 97.8,676.6" fill="#2a2aec"/>
<polygon points="778.3,678.6 769.3,676.6 769.3,680.6" fill="#2a2aec"/>
<text x="420.5" y="682.53" font-size="10.5" fill="#2a2aec" stroke="#2a2aec" stroke-width="0.15" textLength="26" lengthAdjust="spacingAndGlyphs"><tspan class="m">1</tspan>435</text>
<line x1="660.7" y1="386.7" x2="660.7" y2="430" stroke="#3434d4" stroke-width="1.5" />
<line x1="660.7" y1="447" x2="660.7" y2="490" stroke="#3434d4" stroke-width="1.5" />
<line x1="638.3" y1="386.7" x2="670" y2="386.7" stroke="#3434d4" stroke-width="1.5" />
<line x1="638.3" y1="490" x2="670" y2="490" stroke="#3434d4" stroke-width="1.5" />
<polygon points="660.7,386.7 658.7,395.7 662.7,395.7" fill="#2a2aec"/>
<polygon points="660.7,490 662.7,481 658.7,481" fill="#2a2aec"/>
<text x="652" y="442.13" font-size="10.5" fill="#2a2aec" stroke="#2a2aec" stroke-width="0.15" textLength="17" lengthAdjust="spacingAndGlyphs">2<tspan class="m">1</tspan>5</text>
<polyline points="254.4,519 262.7,519 262.7,507.5" fill="none" stroke="#3434d4" stroke-width="1.5" stroke-linejoin="round" />
<polygon points="262.7,507.3 260.7,516.3 264.7,516.3" fill="#2a2aec"/>
<text x="230.5" y="522.83" font-size="10.5" fill="#2a2aec" stroke="#2a2aec" stroke-width="0.15" textLength="21.2" lengthAdjust="spacingAndGlyphs">ø46</text>
<polyline points="759.3,427.7 750.4,427.7 746.6,444.6" fill="none" stroke="#3434d4" stroke-width="1.5" stroke-linejoin="round" />
<polygon points="746.6,444.6 750.4,436.2 746.48,435.38" fill="#2a2aec"/>
<text x="762.6" y="431.53" font-size="10.5" fill="#2a2aec" stroke="#2a2aec" stroke-width="0.15" textLength="14" lengthAdjust="spacingAndGlyphs">R8</text>
<line x1="740.7" y1="448.6" x2="750.7" y2="448.6" stroke="#3434d4" stroke-width="1.1" />
<line x1="745.7" y1="443.6" x2="745.7" y2="453.6" stroke="#3434d4" stroke-width="1.1" />
<polyline points="801.3,638 792.5,638 778.3,629.3" fill="none" stroke="#3434d4" stroke-width="1.5" stroke-linejoin="round" />
<polygon points="778.3,629.3 784.94,635.7 787.02,632.28" fill="#2a2aec"/>
<text x="805" y="641.83" font-size="10.5" fill="#2a2aec" stroke="#2a2aec" stroke-width="0.15" textLength="14.3" lengthAdjust="spacingAndGlyphs">R3</text>
</svg></body></html>
